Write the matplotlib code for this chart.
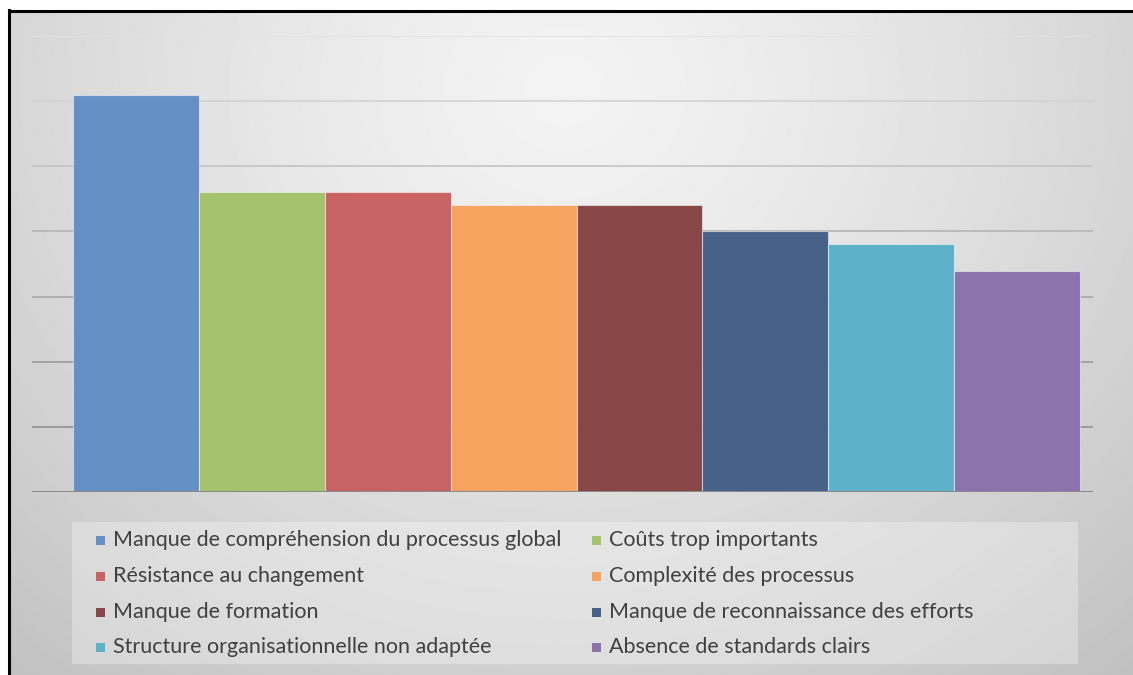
import numpy as np
import matplotlib
matplotlib.use("Agg")
import matplotlib.pyplot as plt
from matplotlib.patches import Rectangle

# data
categories = [
    "Manque de compréhension du processus global",
    "Coûts trop importants",
    "Résistance au changement",
    "Complexité des processus",
    "Manque de formation",
    "Manque de reconnaissance des efforts",
    "Structure organisationnelle non adaptée",
    "Absence de standards clairs",
]
values = [6.1, 4.6, 4.6, 4.4, 4.4, 4.0, 3.8, 3.4]
colors = ["#6590c5", "#a5c26c", "#c96262", "#f5a35e",
          "#884646", "#476189", "#5db2ca", "#8d73ad"]

W, H = 1133, 675
fig = plt.figure(figsize=(W / 100, H / 100), dpi=100)
fig.patch.set_facecolor("white")

# background in pixel coordinates
bg = fig.add_axes([0, 0, 1, 1], zorder=0)
bg.set_xlim(0, W)
bg.set_ylim(H, 0)
bg.axis("off")
yy, xx = np.mgrid[0:H, 0:W]
d = np.hypot(xx - 560, (yy - 80) * 1.1) / 820
shade = np.clip(243 - 47 * d ** 1.3, 190, 245) / 255
bg.imshow(shade, cmap="gray", vmin=0, vmax=1, extent=(9, W, H, 11), zorder=0)
# black frame (top and left)
bg.plot([9, W], [10.5, 10.5], color="black", lw=2.2, zorder=3)
bg.plot([9, 9], [10, H], color="black", lw=2.2, zorder=3)

# legend box
bg.add_patch(Rectangle((72, 522), 1006, 142, facecolor="white", alpha=0.3,
                       edgecolor="none", zorder=2))
col_x = [100, 596]
row_y = [540, 576, 612, 647]
for i, (name, c) in enumerate(zip(categories, colors)):
    x = col_x[i % 2]
    y = row_y[i // 2]
    bg.add_patch(Rectangle((x - 4.5, y - 4.5), 9, 9, facecolor=c, edgecolor="none", zorder=3))
    bg.text(x + 13, y, name, fontsize=15.5, family="Lato", color="#404040",
            va="center", ha="left", zorder=3)

# the chart itself
ax = fig.add_axes([32 / W, 1 - 492 / H, (1093 - 32) / W, (492 - 36) / H], zorder=1)
ax.patch.set_alpha(0)
x = np.arange(len(values))
ax.bar(x, values, width=1.0, color=colors, edgecolor=(1, 1, 1, 0.5), linewidth=0.8, zorder=2)
ax.set_xlim(-0.826, 7.603)
ax.set_ylim(0, 7)

grid_cols = ["#e2e2e2", "#d2d2d2", "#c4c4c4", "#b4b4b4", "#a8a8a8", "#9c9c9c", "#929292"]
for level, gc in zip(range(7, 0, -1), grid_cols):
    ax.axhline(level, color=gc, lw=1.2, zorder=1)
ax.axhline(0, color="#8a8a8a", lw=1.4, zorder=3)

for s in ax.spines.values():
    s.set_visible(False)
ax.set_xticks([])
ax.set_yticks([])

fig.savefig("out.png", dpi=100)
